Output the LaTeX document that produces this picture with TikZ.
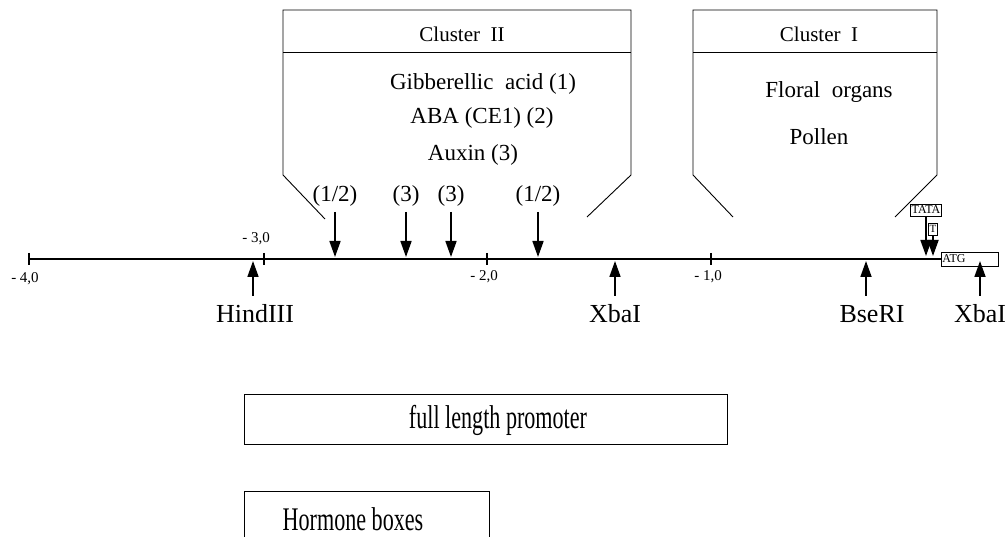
\documentclass[tikz,border=0pt]{standalone}
\usepackage{fontspec}
\setmainfont{Liberation Serif}
\usepackage{graphicx}
\usetikzlibrary{positioning,arrows.meta}

\begin{document}
\begin{tikzpicture}[x=1pt, y=-1pt,
    frame/.style={line width=0.9pt},
    site/.style={line width=1.7pt, -{Triangle[length=16pt,width=11pt]}},
    txt/.style={inner sep=0pt, anchor=base, font=\fontsize{#1}{#1}\selectfont},
    txt/.default=23,
    tag/.style={draw, line width=0.6pt, inner xsep=1pt, inner ysep=2pt, font=\fontsize{12}{12}\selectfont},
]
\useasboundingbox (0,0) rectangle (1007,537);

% map axis with ticks
\coordinate (ax0) at (29,259);
\coordinate (ax1) at (941,259);
\coordinate (tiprow) at (0,256);
\draw[line width=1.5pt] (ax0) -- (ax1);
\foreach \x/\v in {29/4, 264/3, 487/2, 711/1} {
  \coordinate (t\v) at (\x,259);
  \draw[line width=1.2pt] ([yshift=6pt]t\v) -- ([yshift=-6pt]t\v);
}
\foreach \x/\y/\v in {25/283/4, 256/243/3, 484/281/2, 708/281/1} {
  \node[txt=15] (tl\v) at (\x,\y) {- \v,0};
}

% hormone sites
\foreach \x/\lab [count=\i] in {335/{(1/2)}, 406/(3), 451/(3), 538/{(1/2)}} {
  \coordinate (d\i) at (\x,212);
  \coordinate (e\i) at (\x,257);
  \draw[site] (d\i) -- (e\i);
  \node[txt] (h\i) at (\x,202) {\lab};
}

% restriction sites
\foreach \x/\lx/\lab [count=\i] in {253/255/HindIII, 615/615/XbaI, 866/872/BseRI, 980/980/XbaI} {
  \coordinate (u\i) at (\x,296);
  \coordinate (v\i) at (\x,261);
  \draw[site] (u\i) -- (v\i);
  \node[txt=26] (r\i) at (\lx,323) {\lab};
}

% cluster II
\draw[frame] (325,219) -- (283,175) -- (283,10) -- (631,10) -- (631,175) -- (587,217);
\draw[frame] (283,52) -- (631,52);
\node[txt=21] (c2) at (462,42) {Cluster\ \ II};
\node[txt] (ga) at (483,90) {Gibberellic\ \ acid (1)};
\node[txt] (aba) at (482,124) {ABA (CE1) (2)};
\node[txt] (aux) at (473,161) {Auxin (3)};

% cluster I
\draw[frame] (733,217) -- (693,175) -- (693,10) -- (937,10) -- (937,175) -- (895,217);
\draw[frame] (693,52) -- (937,52);
\node[txt=21] (c1) at (819,42) {Cluster\ \ I};
\node[txt] (fl) at (829,98) {Floral\ \ organs};
\node[txt] (po) at (819,145) {Pollen};

% TATA, T and ATG
\node[tag] (tata) at (926,210) {TATA};
\node[tag, font=\fontsize{11}{11}\selectfont, inner ysep=2.3pt] (tbox) at (933,229) {T};
\draw[site] (tata.south) -- (tata.south |- tiprow);
\draw[site] (tbox.south) -- (tbox.south |- tiprow);
\node[tag, anchor=west, text width=55pt, align=left, minimum height=14pt, inner ysep=0pt] (atg) at (ax1) {ATG};

% constructs
\node[draw, frame, minimum width=483pt, minimum height=50pt, inner sep=0pt] (flp) at (485.5,419) {};
\node[txt] (flt) at (498,428) {\scalebox{0.67}[1]{\fontsize{33}{33}\selectfont full length promoter}};
\draw[frame] (244,537) -- (244,491) -- (489,491) -- (489,537);
\node[txt] (hbt) at (353,530) {\scalebox{0.67}[1]{\fontsize{33}{33}\selectfont Hormone boxes}};
\end{tikzpicture}
\end{document}
